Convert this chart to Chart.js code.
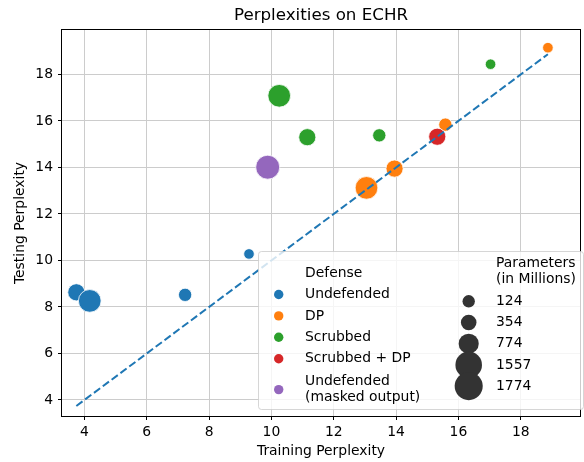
<!DOCTYPE html>
<html>
<head>
<meta charset="utf-8">
<script src="https://cdn.jsdelivr.net/npm/chart.js@4.4.1/dist/chart.umd.min.js"></script>
<style>
html, body { margin: 0; padding: 0; background: #fff; }
canvas { display: block; }
</style>
</head>
<body>
<canvas id="chart" width="584" height="462"></canvas>
<script>
// Perplexities on ECHR: training vs testing perplexity, bubble size = model parameters
const defenseNames = ['Undefended', 'DP', 'Scrubbed', 'Scrubbed + DP', 'Undefended\n(masked output)'];
const defenseColors = ['#1f77b4', '#ff7f0e', '#2ca02c', '#d62728', '#9467bd'];

const undefendedTrain = [3.74, 4.17, 7.23, 9.28];
const undefendedTest = [8.63, 8.26, 8.52, 10.28];
const undefendedParams = [774, 1557, 354, 124];

const dpTrain = [13.05, 13.95, 15.58, 18.87];
const dpTest = [13.12, 13.95, 15.84, 19.15];
const dpParams = [1557, 774, 354, 124];

const scrubbedTrain = [10.25, 11.15, 13.46, 17.03];
const scrubbedTest = [17.08, 15.30, 15.38, 18.44];
const scrubbedParams = [1557, 774, 354, 124];

const scrubbedDpTrain = [15.32];
const scrubbedDpTest = [15.32];
const scrubbedDpParams = [774];

const maskedTrain = [9.88];
const maskedTest = [14.01];
const maskedParams = [1774];

const paramLevels = [124, 354, 774, 1557, 1774];
const xTicks = [4, 6, 8, 10, 12, 14, 16, 18];
const yTicks = [4, 6, 8, 10, 12, 14, 16, 18];
const diagonal = [3.74, 18.87];   // y = x reference line

const FONT = 'DejaVu Sans';
Chart.defaults.font.family = FONT;
Chart.defaults.font.size = 13.9;
Chart.defaults.color = '#000';

// marker area grows linearly with parameter count
function radiusFor(p) {
    return Math.sqrt(28 + 0.0703 * (p - 124));
}

const groups = [
    { train: undefendedTrain, test: undefendedTest, params: undefendedParams },
    { train: dpTrain, test: dpTest, params: dpParams },
    { train: scrubbedTrain, test: scrubbedTest, params: scrubbedParams },
    { train: scrubbedDpTrain, test: scrubbedDpTest, params: scrubbedDpParams },
    { train: maskedTrain, test: maskedTest, params: maskedParams }
];

let datasets = groups.map((g, i) => ({
    type: 'bubble',
    label: defenseNames[i],
    data: g.train.map((x, j) => ({ x: x, y: g.test[j], r: radiusFor(g.params[j]) })),
    backgroundColor: defenseColors[i],
    borderColor: '#ffffff',
    borderWidth: 0.8,
    order: groups.length - i
}));
datasets.push({
    type: 'line',
    data: diagonal.map(v => ({ x: v, y: v })),
    borderColor: '#1f77b4',
    borderWidth: 2,
    borderDash: [7.7, 3.3],
    pointRadius: 0,
    fill: false,
    order: 0
});

// title, frame and the two-column legend
const decorations = {
    id: 'decorations',
    afterDraw(chart) {
        const ctx = chart.ctx;
        const a = chart.chartArea;
        ctx.save();

        ctx.fillStyle = '#000';
        ctx.font = '16.7px ' + FONT;
        ctx.textAlign = 'center';
        ctx.textBaseline = 'middle';
        ctx.fillText('Perplexities on ECHR', (a.left + a.right) / 2, 16);

        ctx.strokeStyle = '#000';
        ctx.lineWidth = 1;
        ctx.strokeRect(Math.round(a.left) - 0.5, Math.round(a.top) - 0.5,
            Math.round(a.right - a.left) + 1, Math.round(a.bottom - a.top) + 1);

        // legend box
        const bx = 258, by = 251, bw = 325, bh = 158;
        ctx.beginPath();
        ctx.roundRect(bx + 0.5, by + 0.5, bw, bh, 3);
        ctx.fillStyle = 'rgba(255,255,255,0.8)';
        ctx.fill();
        ctx.strokeStyle = 'rgba(204,204,204,0.8)';
        ctx.stroke();

        ctx.font = '13.9px ' + FONT;
        ctx.textAlign = 'left';
        ctx.fillStyle = '#000';
        ctx.fillText('Defense', 305, 273);
        const rowH = 21.4;
        defenseNames.forEach((name, i) => {
            const lines = name.split('\n');
            const cy = 294.5 + rowH * i + (lines.length > 1 ? 9.5 : 0);
            ctx.beginPath();
            ctx.arc(278.7, cy, 4.7, 0, Math.PI * 2);
            ctx.fillStyle = defenseColors[i];
            ctx.fill();
            ctx.fillStyle = '#000';
            lines.forEach((ln, k) => {
                ctx.fillText(ln, 305, cy + (k - (lines.length - 1) / 2) * 16);
            });
        });

        ctx.fillText('Parameters', 496, 263.5);
        ctx.fillText('(in Millions)', 496, 279.5);
        paramLevels.forEach((p, i) => {
            const cy = 301.3 + 21.2 * i;
            ctx.beginPath();
            ctx.arc(468.7, cy, radiusFor(p) * 1.17, 0, Math.PI * 2);
            ctx.fillStyle = '#333333';
            ctx.fill();
            ctx.fillStyle = '#000';
            ctx.fillText(String(p), 496, cy);
        });
        ctx.restore();
    }
};

const gridOpts = { color: '#cccccc', lineWidth: 1, tickColor: '#000', tickLength: 4, tickWidth: 1, drawTicks: true };

new Chart(document.getElementById('chart').getContext('2d'), {
    type: 'bubble',
    data: { datasets: datasets },
    options: {
        responsive: false,
        animation: false,
        events: [],
        layout: { autoPadding: false, padding: { top: 30, right: 4, left: 0, bottom: 0 } },
        plugins: { legend: { display: false }, tooltip: { enabled: false }, title: { display: false } },
        scales: {
            x: {
                type: 'linear', min: 3.28, max: 19.9, z: 1,
                afterBuildTicks: s => { s.ticks = xTicks.map(v => ({ value: v })); },
                afterFit: s => { s.height = 46; s.paddingLeft = 0; s.paddingRight = 0; },
                grid: gridOpts,
                border: { display: false },
                ticks: { padding: 4, maxRotation: 0, color: '#000' },
                title: { display: true, text: 'Training Perplexity', color: '#000', padding: { top: 0, bottom: 2 } }
            },
            y: {
                type: 'linear', min: 3.31, max: 19.91, z: 1,
                afterBuildTicks: s => { s.ticks = yTicks.map(v => ({ value: v })); },
                afterFit: s => { s.width = 62; s.paddingTop = 0; s.paddingBottom = 0; },
                grid: gridOpts,
                border: { display: false },
                ticks: { padding: 5, color: '#000' },
                title: { display: true, text: 'Testing Perplexity', color: '#000', padding: { top: 12, bottom: 0 } }
            }
        }
    },
    plugins: [decorations]
});
</script>
</body>
</html>
